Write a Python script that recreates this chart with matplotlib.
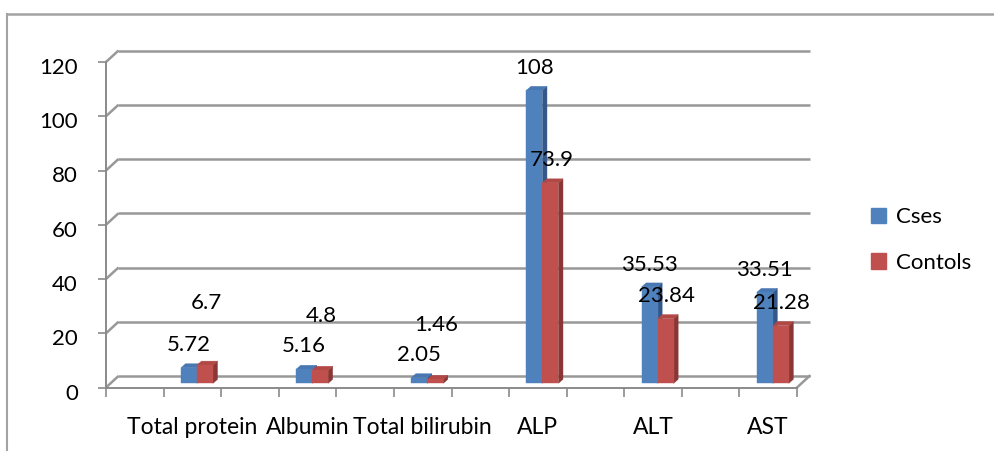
import numpy as np
import matplotlib
matplotlib.use("Agg")
import matplotlib.pyplot as plt
from matplotlib.patches import Polygon, Patch
from matplotlib.lines import Line2D
from matplotlib.transforms import ScaledTranslation

plt.rcParams["font.family"] = ["Lato", "DejaVu Sans"]

# ---- data -------------------------------------------------------------
categories = ["Total protein", "Albumin", "Total bilirubin", "ALP", "ALT", "AST"]
cases = [5.72, 5.16, 2.05, 108, 35.53, 33.51]
controls = [6.7, 4.8, 1.46, 73.9, 23.84, 21.28]
y_ticks = [0, 20, 40, 60, 80, 100, 120]
series_names = ["Cses", "Contols"]

# vertical lift of each value label above its bar (pixels)
lift_cases = [23, 23, 23, 22, 22, 22]
lift_controls = [62, 54, 54, 23, 23, 23]

# ---- style ------------------------------------------------------------
W, H = 995, 451
GRID = "#989898"
AXIS = "#8a8a8a"
BLUE = ("#4f81bd", "#34578a", "#4877b2")   # front, side, top
RED = ("#c0504d", "#8a3634", "#b14845")
FS = 16

fig = plt.figure(figsize=(W / 100, H / 100), dpi=100)
fig.patch.set_facecolor("white")

ax_left, ax_right, ax_top, ax_bot = 106, 797, 62, 387.5
ax = fig.add_axes([ax_left / W, (H - ax_bot) / H,
                   (ax_right - ax_left) / W, (ax_bot - ax_top) / H])
n = len(categories)
ax.set_xlim(0, n)
ax.set_ylim(0, 120)
ax.set_facecolor("none")

# pixel -> data conversions for the 3-D offsets
sx = (ax_right - ax_left) / n
sy = (ax_bot - ax_top) / 120
DX, DY = 12.5 / sx, 11.5 / sy          # full depth of the plot box
shift_x, base = 4.6 / sx, 4.2 / sy     # where the bar fronts sit in depth
bdx, bdy = 4.5 / sx, 4.0 / sy          # depth of each bar
bw = 16 / sx                           # bar width

# back wall, side wall and floor
for v in y_ticks:
    ax.plot([0, DX], [v, v + DY], color=GRID, lw=1.8, clip_on=False,
            solid_capstyle="butt", zorder=1)
    ax.plot([DX, n + DX], [v + DY, v + DY], color=GRID, lw=1.8,
            clip_on=False, solid_capstyle="butt", zorder=1)
ax.plot([n, n + DX], [0, DY], color=GRID, lw=1.8, clip_on=False, zorder=1)


def bar3d(x0, v, cols):
    x1 = x0 + bw
    y0, y1 = base, base + v
    side = [(x1, y0), (x1 + bdx, y0 + bdy), (x1 + bdx, y1 + bdy), (x1, y1)]
    top = [(x0, y1), (x1, y1), (x1 + bdx, y1 + bdy), (x0 + bdx, y1 + bdy)]
    front = [(x0, y0), (x1, y0), (x1, y1), (x0, y1)]
    for pts, c in ((side, cols[1]), (top, cols[2]), (front, cols[0])):
        ax.add_patch(Polygon(pts, closed=True, facecolor=c, edgecolor=c,
                             lw=0.3, clip_on=False, zorder=3))


centers = np.arange(n) + 0.75
label_off = lambda px: ax.transData + ScaledTranslation(0, px / 100, fig.dpi_scale_trans)
for i in range(n):
    xb = centers[i] + shift_x - bw
    xr = centers[i] + shift_x
    bar3d(xb, cases[i], BLUE)
    bar3d(xr, controls[i], RED)
    ax.text(xb + bw / 2, base + cases[i], f"{cases[i]:g}", ha="center",
            va="center", fontsize=FS, transform=label_off(lift_cases[i]),
            zorder=5)
    ax.text(xr + bw / 2 + 1 / sx, base + controls[i], f"{controls[i]:g}",
            ha="center", va="center", fontsize=FS,
            transform=label_off(lift_controls[i]), zorder=5)

# axes lines and ticks
for s in ("top", "right"):
    ax.spines[s].set_visible(False)
for s in ("left", "bottom"):
    ax.spines[s].set_color(AXIS)
    ax.spines[s].set_linewidth(1.4)
ax.set_yticks(y_ticks)
ax.tick_params(axis="y", direction="out", length=5.8, width=1.2, color=AXIS,
               pad=14.4, labelsize=FS)
for lbl in ax.get_yticklabels():
    lbl.set_transform(lbl.get_transform() +
                      ScaledTranslation(0, -4 / 100, fig.dpi_scale_trans))
ax.set_xticks(np.arange(0, n + 0.01, 0.5))
ax.set_xticklabels([])
ax.tick_params(axis="x", which="major", direction="out", length=6.5,
               width=1.2, color=AXIS)
ax.set_xticks(centers, minor=True)
ax.set_xticklabels(categories, minor=True)
ax.tick_params(axis="x", which="minor", length=0, pad=21, labelsize=16.5)

# legend
handles = [Patch(facecolor=BLUE[0], edgecolor=BLUE[0]),
           Patch(facecolor=RED[0], edgecolor=RED[0])]
fig.legend(handles, series_names, loc="center left",
           bbox_to_anchor=(871 / W, (H - 240) / H), frameon=False,
           fontsize=FS, handlelength=0.68, handleheight=0.68,
           handletextpad=0.45, labelspacing=1.15, borderpad=0,
           borderaxespad=0)

# chart-area border (left and top edges)
fig.add_artist(Line2D([7 / W, 7 / W], [0, (H - 14) / H], color="#a3a3a3",
                      lw=1.5, transform=fig.transFigure))
fig.add_artist(Line2D([7 / W, 1], [(H - 14) / H, (H - 14) / H],
                      color="#a3a3a3", lw=1.8, transform=fig.transFigure))

fig.savefig("out.png", dpi=100)
